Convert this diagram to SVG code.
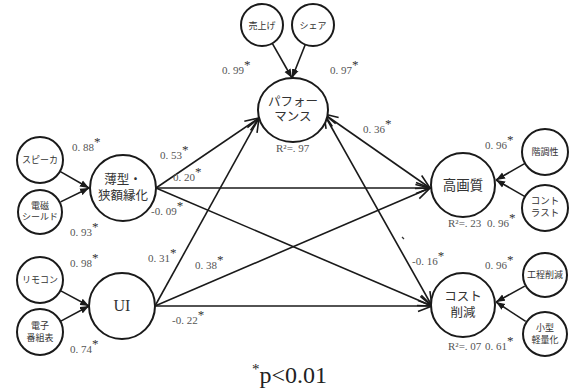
<svg xmlns="http://www.w3.org/2000/svg" width="571" height="389" viewBox="0 0 571 389">
<style>
.n{fill:#fff;stroke:#1a1a1a;stroke-width:2}
.c{stroke:#1a1a1a;stroke-width:1.6;fill:none}
.ci{stroke:#1a1a1a;stroke-width:1.6;fill:none}
.t{font-family:"Noto Sans CJK JP","Noto Sans",sans-serif;fill:#333;text-anchor:middle}
.s{font-size:9px}
.m{font-size:12.5px}
.v{font-family:"Liberation Serif",serif;font-size:11px;fill:#555}
.a{font-size:13px;fill:#333}
</style>
<defs>
<marker id="ah" markerUnits="userSpaceOnUse" markerWidth="16" markerHeight="14" viewBox="0 0 16 14" refX="15" refY="7" orient="auto-start-reverse">
<path d="M1,1.5 L15,7 L1,12.5" fill="none" stroke="#1a1a1a" stroke-width="1.6"/>
</marker>
<marker id="ai" markerUnits="userSpaceOnUse" markerWidth="10" markerHeight="8" viewBox="0 0 10 8" refX="9" refY="4" orient="auto">
<path d="M0,0.5 L9,4 L0,7.5 Z" fill="#1a1a1a"/>
</marker>
</defs>

<g id="connectors">
<line class="ci" x1="60" y1="171.4" x2="89" y2="188" marker-end="url(#ai)"/>
<line class="ci" x1="60.6" y1="201.9" x2="89" y2="188" marker-end="url(#ai)"/>
<line class="ci" x1="60.4" y1="290.6" x2="89" y2="306" marker-end="url(#ai)"/>
<line class="ci" x1="60.4" y1="321.4" x2="89" y2="306" marker-end="url(#ai)"/>
<line class="ci" x1="272.3" y1="43.3" x2="292" y2="78" marker-end="url(#ai)"/>
<line class="ci" x1="305.3" y1="44.5" x2="292" y2="78" marker-end="url(#ai)"/>
<line class="ci" x1="525" y1="163.4" x2="496" y2="180" marker-end="url(#ai)"/>
<line class="ci" x1="525" y1="196.6" x2="496" y2="180" marker-end="url(#ai)"/>
<line class="ci" x1="524.8" y1="286.1" x2="496" y2="302" marker-end="url(#ai)"/>
<line class="ci" x1="525.7" y1="321.4" x2="496" y2="302" marker-end="url(#ai)"/>

<line class="c" x1="156" y1="188" x2="259" y2="118" marker-end="url(#ah)"/>
<line class="c" x1="156" y1="188" x2="430" y2="188" marker-end="url(#ah)"/>
<line class="c" x1="156" y1="188" x2="432" y2="306" marker-end="url(#ah)"/>
<line class="c" x1="155" y1="306" x2="259" y2="118" marker-end="url(#ah)"/>
<line class="c" x1="155" y1="306" x2="430" y2="188" marker-end="url(#ah)"/>
<line class="c" x1="155" y1="306" x2="432" y2="306" marker-end="url(#ah)"/>
<line class="c" x1="324" y1="114" x2="430" y2="188" marker-start="url(#ah)" marker-end="url(#ah)"/>
<line class="c" x1="324" y1="114" x2="432" y2="306" marker-start="url(#ah)" marker-end="url(#ah)"/>
<line x1="402" y1="237" x2="404" y2="239" stroke="#333" stroke-width="1.2"/>
</g>

<g id="uriage"><circle class="n" cx="262" cy="25" r="21"/><text class="t s" x="262" y="29">売上げ</text></g>
<g id="share"><circle class="n" cx="313" cy="25" r="21"/><text class="t s" x="313" y="29">シェア</text></g>
<g id="performance"><ellipse class="n" cx="293" cy="110" rx="35" ry="32"/>
<text class="t m" x="293" y="106">パフォー</text><text class="t m" x="293" y="121">マンス</text>
<text class="v" x="276" y="152">R²=. 97</text></g>

<g id="speaker"><circle class="n" cx="40" cy="160" r="23"/><text class="t s" x="40" y="163">スピーカ</text></g>
<g id="denji"><circle class="n" cx="40" cy="212" r="22"/><text class="t s" x="40" y="209">電磁</text><text class="t s" x="40" y="220">シールド</text></g>
<g id="usugata"><circle class="n" cx="123" cy="188" r="33"/><text class="t m" x="123" y="184">薄型・</text><text class="t m" x="123" y="200">狭額縁化</text></g>

<g id="remocon"><circle class="n" cx="40" cy="280" r="23"/><text class="t s" x="40" y="283">リモコン</text></g>
<g id="epg"><circle class="n" cx="40" cy="332" r="23"/><text class="t s" x="40" y="329">電子</text><text class="t s" x="40" y="341">番組表</text></g>
<g id="ui"><circle class="n" cx="122" cy="306" r="33"/><text x="122" y="311" font-family="Liberation Serif,serif" font-size="16" fill="#333" text-anchor="middle">UI</text></g>

<g id="kougashitsu"><circle class="n" cx="463" cy="185" r="32"/><text x="463" y="190" class="t" font-size="13.5">高画質</text>
<text class="v" x="448" y="227">R²=. 23</text></g>
<g id="kaichou"><circle class="n" cx="545" cy="152" r="23"/><text class="t s" x="545" y="155">階調性</text></g>
<g id="contrast"><circle class="n" cx="545" cy="208" r="23"/><text class="t" x="545" y="204" font-size="9.5">コント</text><text class="t" x="545" y="216" font-size="9.5">ラスト</text></g>

<g id="cost"><circle class="n" cx="463" cy="305" r="32"/><text class="t m" x="463" y="301">コスト</text><text class="t m" x="463" y="317">削減</text>
<text class="v" x="448" y="350">R²=. 07</text></g>
<g id="koutei"><circle class="n" cx="545" cy="275" r="22"/><text class="t s" x="545" y="278">工程削減</text></g>
<g id="kogata"><circle class="n" cx="545" cy="334" r="22"/><text class="t s" x="545" y="331">小型</text><text class="t s" x="545" y="343">軽量化</text></g>

<g id="labels">
<text class="v" x="222" y="74">0. 99<tspan class="a" dy="-5">*</tspan></text>
<text class="v" x="330" y="74">0. 97<tspan class="a" dy="-5">*</tspan></text>
<text class="v" x="72" y="151">0. 88<tspan class="a" dy="-5">*</tspan></text>
<text class="v" x="70" y="236">0. 93<tspan class="a" dy="-5">*</tspan></text>
<text class="v" x="160" y="159">0. 53<tspan class="a" dy="-5">*</tspan></text>
<text class="v" x="173" y="181">0. 20<tspan class="a" dy="-5">*</tspan></text>
<text class="v" x="151" y="215">-0. 09<tspan class="a" dy="-5">*</tspan></text>
<text class="v" x="70" y="267">0. 98<tspan class="a" dy="-5">*</tspan></text>
<text class="v" x="70" y="353">0. 74<tspan class="a" dy="-5">*</tspan></text>
<text class="v" x="148" y="262">0. 31<tspan class="a" dy="-5">*</tspan></text>
<text class="v" x="195" y="269">0. 38<tspan class="a" dy="-5">*</tspan></text>
<text class="v" x="172" y="324">-0. 22<tspan class="a" dy="-5">*</tspan></text>
<text class="v" x="363" y="133">0. 36<tspan class="a" dy="-5">*</tspan></text>
<text class="v" x="412" y="265">-0. 16<tspan class="a" dy="-5">*</tspan></text>
<text class="v" x="485" y="149">0. 96<tspan class="a" dy="-5">*</tspan></text>
<text class="v" x="487" y="227">0. 96<tspan class="a" dy="-5">*</tspan></text>
<text class="v" x="485" y="269">0. 96<tspan class="a" dy="-5">*</tspan></text>
<text class="v" x="485" y="350">0. 61<tspan class="a" dy="-5">*</tspan></text>
</g>

<text x="252" y="383" font-family="Liberation Serif,serif" font-size="24" fill="#222"><tspan font-size="15" dy="-9">*</tspan><tspan dy="9">p&lt;0.01</tspan></text>
</svg>
